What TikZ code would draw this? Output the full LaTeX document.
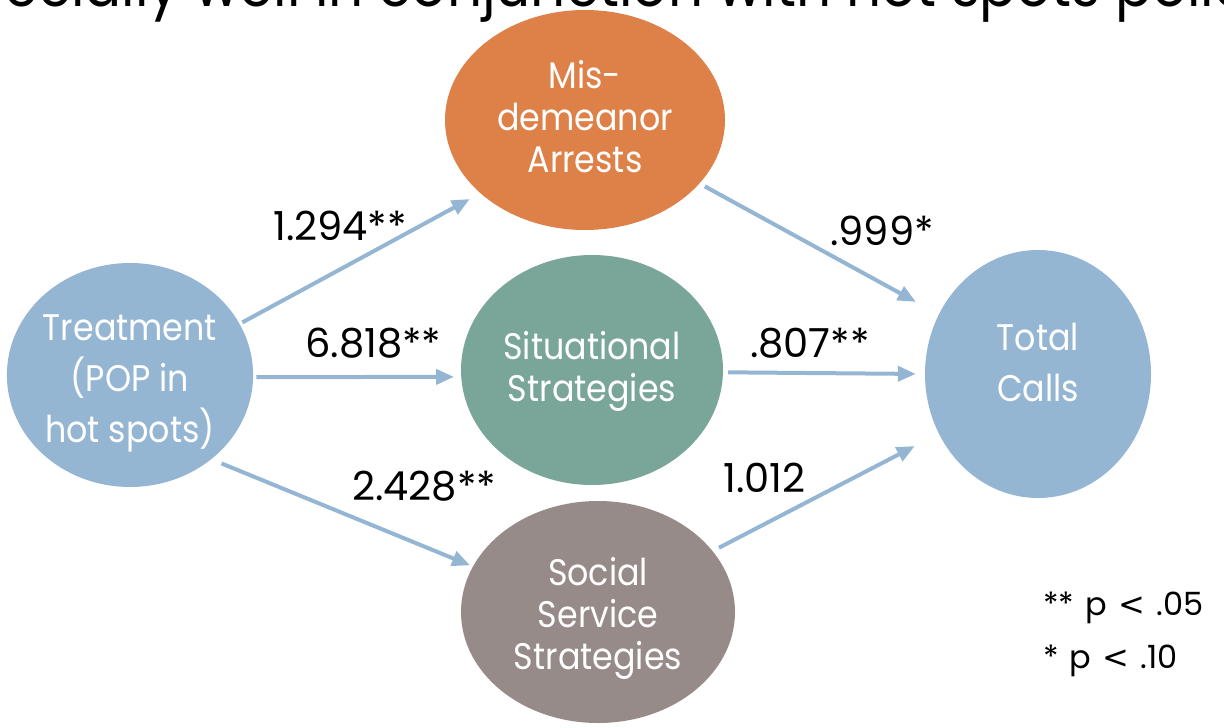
\documentclass[tikz,border=0pt]{standalone}
\usepackage{fontspec}
\setmainfont{Poppins}[FakeStretch=0.9]
\newfontfamily\numfont{Poppins}
\newfontfamily\symfont{DejaVu Sans}
\usetikzlibrary{shapes.geometric,arrows.meta}
\definecolor{blueA}{HTML}{95B6D3}
\definecolor{orangeA}{HTML}{DD8148}
\definecolor{tealA}{HTML}{7AA69A}
\definecolor{greyA}{HTML}{968B88}
% centred lines of a bubble, moved up or down without changing the box size
\newcommand{\bubbletext}[2]{\raisebox{#1}[\height][\depth]{\begin{tabular}{@{}c@{}}#2\end{tabular}}}
\newcommand{\wsp}{\hspace{0.35em}}
\newcommand{\lessthan}{{\symfont <}}
\begin{document}
\begin{tikzpicture}[x=1pt,y=-1pt,
  bubble/.style={ellipse,inner sep=0pt,text=white,
    font=\fontsize{37}{42}\selectfont},
  link/.style={draw=blueA,line width=4pt,-{Triangle[length=18pt,width=15pt]}},
  coef/.style={anchor=base west,inner sep=0pt,font=\numfont\fontsize{40}{44}\selectfont},
  keytext/.style={anchor=base west,inner sep=0pt,font=\numfont\fontsize{32}{36}\selectfont},
]
\useasboundingbox (0,0) rectangle (1224,728);
\clip (0,0) rectangle (1224,728);

% heading line, running off the top edge
\node[anchor=base west,inner sep=0pt,font=\fontsize{61}{66}\selectfont] (head) at (-96,6)
  {especially well in conjunction with hot spots policing};

% variables
\node[bubble,fill=blueA,minimum width=234pt,minimum height=224pt,
  font=\fontsize{37}{51}\selectfont] (treat) at (130,375)
  {\bubbletext{-6pt}{Treatment\\(POP in\\hot spots)}};
\node[bubble,fill=orangeA,minimum width=280pt,minimum height=220pt] (mis) at (585,120)
  {\bubbletext{-2pt}{Mis-\\demeanor\\Arrests}};
\node[bubble,fill=tealA,minimum width=262pt,minimum height=230pt] (sit) at (592,370)
  {\bubbletext{-2pt}{Situational\\Strategies}};
\node[bubble,fill=greyA,minimum width=274pt,minimum height=222pt] (soc) at (598,612)
  {\bubbletext{-7pt}{Social\\Service\\Strategies}};
\node[bubble,fill=blueA,minimum width=226pt,minimum height=248pt,
  font=\fontsize{37}{51}\selectfont] (total) at (1038,374)
  {\bubbletext{8pt}{Total\\Calls}};

% paths
\draw[link,shorten <=3pt,shorten >=12pt] (treat.25) -- (mis.215);
\draw[link,shorten <=3pt,shorten >=7pt] (treat.-1) -- (sit.183);
\draw[link,shorten <=11pt,shorten >=3pt] (treat.-46) -- (soc.160);
\draw[link,shorten <=6pt,shorten >=26pt] (mis.-29) -- (total.149.5);
\draw[link,shorten <=5pt,shorten >=9pt] (sit.-1) -- (total.180);
\draw[link,shorten <=7pt,shorten >=27pt] (soc.28) -- (total.211);

% coefficients
\node[coef] (c1) at (273,240) {1.294**};
\node[coef] (c2) at (305,357) {6.818**};
\node[coef] (c3) at (352,500) {2.428**};
\node[coef] (c4) at (830,245) {.999*};
\node[coef] (c5) at (750,357) {.807**};
\node[coef] (c6) at (723,492) {1.012};

% significance key
\node[keytext] (k1) at (1043,615) {**\wsp p\wsp\lessthan\wsp.05};
\node[keytext] (k2) at (1043,668) {*\wsp p\wsp\lessthan\wsp.10};
\end{tikzpicture}
\end{document}
